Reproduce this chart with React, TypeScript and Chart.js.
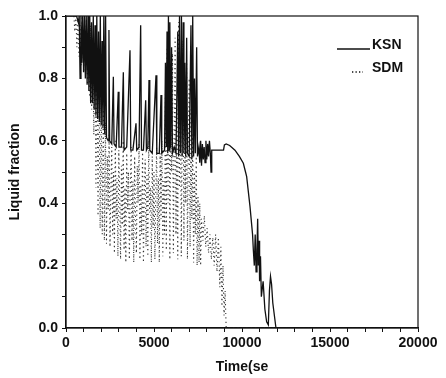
import React, { useEffect, useRef } from "react";
import { Chart, registerables } from "chart.js";

Chart.register(...registerables);

const ksnTime = [
  0, 600, 700, 750, 800, 850, 900, 950, 1000, 1050, 1100, 1150, 1200, 1250, 1300, 1350, 1400, 1450, 1500, 1550,
  1600, 1650, 1700, 1750, 1800, 1850, 1900, 1950, 2000, 2050, 2100, 2150, 2200, 2250, 2300,
  2400, 2440, 2480, 2600, 2690, 2730, 2850, 2970, 3010, 3150, 3258, 3300, 3450, 3636, 3680, 3800, 3977, 4020,
  4150, 4242, 4290, 4400, 4527, 4570, 4650, 4716, 4760, 4900, 5114, 5160, 5300, 5398, 5440, 5600,
  5650, 5700, 5740, 5780, 5820, 5860, 5900, 5950, 6000, 6050, 6150, 6250, 6350, 6400, 6450, 6500, 6560, 6600,
  6660, 6700, 6750, 6800, 6856, 6900, 7000, 7100, 7150, 7200, 7250, 7300, 7350, 7424, 7470, 7550, 7600, 7650,
  7700, 7750, 7800, 7850, 7900, 7950, 8000, 8050, 8100, 8150, 8200, 8240, 8280, 8350, 8950, 9000, 9100, 9300,
  9600, 9850, 10076, 10200, 10265, 10455, 10600, 10644, 10700, 10750, 10800, 10850, 10890, 10930, 10970, 11000,
  11050, 11100, 11200, 11300, 11400, 11496, 11560, 11620, 11680, 11750, 11930, 20000,
];
const ksnValue = [
  1.0, 1.0, 0.98, 1.0, 0.8, 1.0, 0.85, 1.0, 0.82, 1.0, 0.8, 1.0, 0.78, 1.0, 0.76, 1.0, 0.72, 0.98, 0.72, 1.0,
  0.7, 0.97, 0.68, 1.0, 0.67, 0.95, 0.66, 1.0, 0.65, 0.92, 0.64, 1.0, 0.62, 1.0, 0.61,
  0.6, 0.955, 0.6, 0.59, 0.805, 0.59, 0.58, 0.757, 0.58, 0.58, 0.82, 0.57, 0.58, 0.89, 0.57, 0.57, 0.656, 0.57,
  0.58, 0.97, 0.57, 0.57, 0.73, 0.57, 0.58, 0.795, 0.57, 0.56, 0.81, 0.56, 0.56, 0.747, 0.56, 0.57,
  0.85, 0.58, 0.95, 0.56, 1.0, 0.57, 0.98, 0.58, 0.9, 0.56, 0.58, 0.56, 0.95, 0.55, 1.0, 0.56, 1.0, 0.55,
  0.98, 0.56, 0.85, 0.55, 0.93, 0.56, 0.55, 0.97, 0.54, 1.0, 0.55, 0.8, 0.56, 0.9, 0.55, 0.58, 0.53, 0.6,
  0.52, 0.59, 0.54, 0.58, 0.53, 0.6, 0.54, 0.59, 0.55, 0.6, 0.56, 0.5, 0.57, 0.57, 0.57, 0.587, 0.59, 0.585,
  0.57, 0.55, 0.528, 0.5, 0.485, 0.389, 0.3, 0.25, 0.2, 0.3, 0.18, 0.25, 0.35, 0.2, 0.28, 0.15,
  0.23, 0.1, 0.15, 0.06, 0.02, 0.01, 0.12, 0.165, 0.14, 0.08, 0.0, 0.0,
];

const sdmTime = [
  450, 500, 560, 620, 680, 740, 800, 860, 920, 980, 1040, 1100, 1160, 1220, 1280, 1340, 1400, 1460, 1520, 1580,
  1640, 1700, 1760, 1820, 1880, 1940, 2000, 2060, 2120, 2180, 2240,
  2300, 2350, 2400, 2450, 2500, 2550, 2600, 2650, 2700, 2750, 2800, 2850, 2900, 2950, 3000, 3050, 3100, 3150,
  3200, 3250, 3300, 3350, 3400, 3450, 3500, 3550, 3600, 3650, 3700, 3750, 3800, 3850, 3900, 3950, 4000, 4050,
  4100, 4150, 4200, 4250, 4300, 4350, 4400, 4450, 4500, 4550, 4600, 4650, 4700, 4750, 4800, 4850, 4900, 4950,
  5000, 5050, 5100, 5150, 5200, 5250, 5300, 5350, 5400, 5450, 5500, 5550, 5600, 5650, 5700, 5750, 5800, 5850,
  5900, 5950, 6000, 6050, 6100, 6150, 6200, 6250, 6300, 6350, 6400, 6450, 6500, 6550, 6600, 6650, 6700, 6750,
  6800, 6850, 6900, 6950, 7000, 7050, 7100, 7150, 7200, 7250, 7300, 7350, 7400, 7450, 7500,
  7560, 7600, 7650, 7700, 7780, 7860, 7940, 8020, 8100, 8180, 8260, 8340, 8420, 8500, 8580, 8660, 8740, 8800,
  8860, 8920, 8980, 9040, 9100, 20000,
];
const sdmValue = [
  1.0, 0.95, 1.0, 0.9, 0.99, 0.87, 0.97, 0.84, 1.0, 0.86, 0.96, 0.82, 0.99, 0.78, 0.95, 0.74, 0.97, 0.7, 0.93, 0.62,
  0.9, 0.45, 0.86, 0.36, 0.8, 0.32, 0.75, 0.3, 0.7, 0.28, 0.66,
  0.27, 0.55, 0.38, 0.62, 0.26, 0.45, 0.58, 0.3, 0.5, 0.24, 0.6, 0.35, 0.48, 0.23, 0.57, 0.42, 0.22, 0.52,
  0.33, 0.6, 0.25, 0.45, 0.21, 0.56, 0.38, 0.5, 0.22, 0.44, 0.58, 0.28, 0.47, 0.21, 0.55, 0.36, 0.24, 0.52,
  0.4, 0.59, 0.22, 0.46, 0.3, 0.57, 0.21, 0.43, 0.54, 0.26, 0.49, 0.23, 0.6, 0.37, 0.45, 0.21, 0.55, 0.32,
  0.5, 0.22, 0.42, 0.58, 0.27, 0.48, 0.21, 0.56, 0.35, 0.6, 0.23, 0.47, 0.3, 0.75, 0.25, 0.9, 0.4, 0.97,
  0.22, 0.65, 0.5, 0.88, 0.24, 0.55, 0.93, 0.3, 0.7, 0.22, 0.98, 0.45, 0.85, 0.23, 0.62, 0.92, 0.28, 0.75,
  0.4, 0.86, 0.22, 0.58, 0.8, 0.26, 0.7, 0.35, 0.62, 0.21, 0.5, 0.3, 0.55, 0.2, 0.42,
  0.21, 0.4, 0.2, 0.35, 0.28, 0.36, 0.26, 0.32, 0.24, 0.3, 0.22, 0.29, 0.2, 0.3, 0.18, 0.29, 0.13, 0.26,
  0.07, 0.2, 0.04, 0.12, 0.0, 0.0,
];

const xTickLabels = ["0", "5000", "10000", "15000", "20000"];
const yTickLabels = ["0.0", "0.2", "0.4", "0.6", "0.8", "1.0"];

const FONT = "'Liberation Sans', Arial, sans-serif";

const boxPlugin = {
  id: "box",
  afterDatasetsDraw(chart: any) {
    const { ctx, chartArea } = chart;
    ctx.save();
    ctx.strokeStyle = "#111";
    ctx.lineWidth = 1.2;
    ctx.strokeRect(chartArea.left, chartArea.top, chartArea.right - chartArea.left, chartArea.bottom - chartArea.top);
    ctx.restore();
  },
};

const legendPlugin = {
  id: "customLegend",
  afterDraw(chart: any) {
    const { ctx } = chart;
    const ds = chart.data.datasets;
    ctx.save();
    ctx.font = `bold 14px ${FONT}`;
    ctx.fillStyle = "#111";
    ctx.textBaseline = "middle";
    ctx.strokeStyle = "#111";
    ctx.lineWidth = 1.3;
    ctx.beginPath();
    ctx.moveTo(337, 49);
    ctx.lineTo(370, 49);
    ctx.stroke();
    ctx.fillText(ds[0].label, 372, 45);
    ctx.setLineDash([1.3, 2.2]);
    ctx.beginPath();
    ctx.moveTo(352, 72);
    ctx.lineTo(363, 72);
    ctx.stroke();
    ctx.setLineDash([]);
    ctx.fillText(ds[1].label, 372, 68);
    ctx.restore();
  },
};

export default function App() {
  const ref = useRef<HTMLCanvasElement>(null);
  useEffect(() => {
    if (!ref.current) return;
    const ksn = ksnTime.map((t, i) => ({ x: t, y: ksnValue[i] }));
    const sdm = sdmTime.map((t, i) => ({ x: t, y: sdmValue[i] }));
    const chart = new Chart(ref.current, {
      type: "line",
      data: {
        datasets: [
          {
            label: "KSN",
            data: ksn,
            borderColor: "#111",
            borderWidth: 1.3,
            pointRadius: 0,
            tension: 0,
          },
          {
            label: "SDM",
            data: sdm,
            borderColor: "#333",
            borderWidth: 1.1,
            borderDash: [1.2, 3.2],
            pointRadius: 0,
            tension: 0,
          },
        ],
      },
      options: {
        animation: false,
        responsive: false,
        devicePixelRatio: 1,
        layout: { padding: { top: 16, right: 28, left: 0, bottom: 0 } },
        plugins: { legend: { display: false }, tooltip: { enabled: false } },
        scales: {
          x: {
            type: "linear",
            min: 0,
            max: 20000,
            afterFit: (s: any) => {
              s.height = 50;
            },
            ticks: {
              stepSize: 1000,
              autoSkip: false,
              maxRotation: 0,
              padding: 3,
              color: "#111",
              font: { family: FONT, size: 14, weight: "bold" },
              callback: (v: any) => {
                const n = Math.round(Number(v) / 5000);
                return Number(v) % 5000 === 0 ? xTickLabels[n] : "";
              },
            },
            grid: { drawOnChartArea: false, tickLength: 4, color: "#111" },
            border: { display: true, color: "#111", width: 1.2 },
            title: {
              display: true,
              text: "Time(se",
              color: "#111",
              font: { family: FONT, size: 14, weight: "bold" },
              padding: { top: 0, bottom: 2 },
            },
          },
          y: {
            type: "linear",
            min: 0,
            max: 1,
            afterFit: (s: any) => {
              s.width = 66;
            },
            ticks: {
              stepSize: 0.1,
              autoSkip: false,
              padding: 4,
              color: "#111",
              font: { family: FONT, size: 14, weight: "bold" },
              callback: (v: any) => {
                const n = Math.round(Number(v) * 10);
                return n % 2 === 0 ? yTickLabels[n / 2] : "";
              },
            },
            grid: { drawOnChartArea: false, tickLength: 4, color: "#111" },
            border: { display: true, color: "#111", width: 1.2 },
            title: {
              display: true,
              text: "Liquid fraction",
              color: "#111",
              font: { family: FONT, size: 14, weight: "bold" },
              padding: { top: 7, bottom: 0 },
            },
          },
        },
      },
      plugins: [boxPlugin, legendPlugin],
    });
    return () => chart.destroy();
  }, []);
  return (
    <div style={{ position: "fixed", left: 0, top: 0, width: 446, height: 378, background: "#fff" }}>
      <canvas ref={ref} width={446} height={378} style={{ display: "block" }} />
    </div>
  );
}
